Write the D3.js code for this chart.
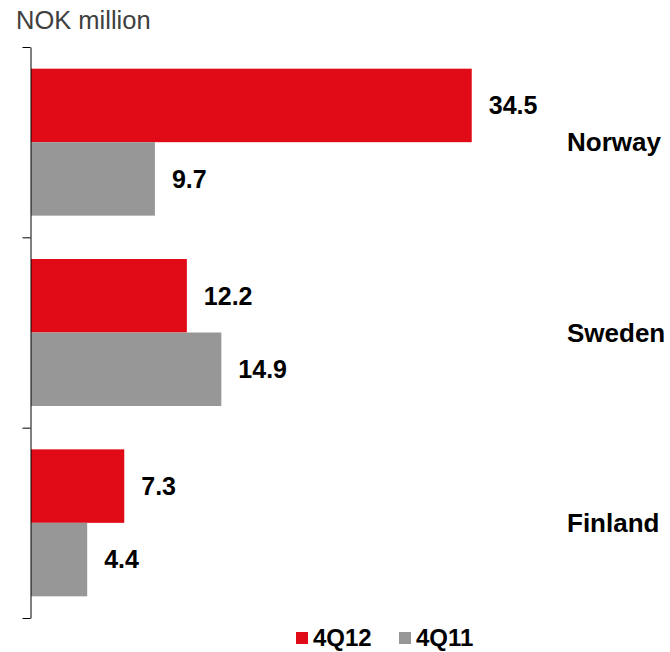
<!DOCTYPE html>
<html>
<head>
<meta charset="utf-8">
<script src="https://cdn.jsdelivr.net/npm/d3@7"></script>
<style>
  html, body { margin: 0; padding: 0; background: #fff; }
  svg { display: block; font-family: "Liberation Sans", Arial, sans-serif; }
</style>
</head>
<body>
<svg id="chart" width="670" height="652"></svg>
<script>
// Quarterly figures per country, NOK million
const categories = ["Norway", "Sweden", "Finland"];
const seriesNames = ["4Q12", "4Q11"];
const values4Q12 = [34.5, 12.2, 7.3];
const values4Q11 = [9.7, 14.9, 4.4];
const seriesColors = ["#E10A17", "#979797"];
const unitLabel = "NOK million";

const svg = d3.select("#chart");

const plotLeft = 31, plotTop = 47, plotBottom = 618;

const x = d3.scaleLinear().domain([0, 40]).range([plotLeft, plotLeft + 511]);

const y = d3.scaleBand().domain(categories).range([plotTop, plotBottom]).padding(0);

const yInner = d3.scaleBand().domain(seriesNames)
  .range([0, y.step()]).paddingInner(0).paddingOuter(0.295);

const rows = categories.map((c, i) => ({
  category: c,
  bars: [
    { series: seriesNames[0], value: values4Q12[i], color: seriesColors[0] },
    { series: seriesNames[1], value: values4Q11[i], color: seriesColors[1] }
  ]
}));

// unit caption
svg.append("text")
  .attr("x", 16).attr("y", 29)
  .attr("font-size", 25.5)
  .attr("fill", "#404040")
  .text(unitLabel);

// category groups
const groups = svg.selectAll("g.group").data(rows).join("g")
  .attr("class", "group")
  .attr("transform", d => `translate(0,${y(d.category)})`);

groups.selectAll("rect").data(d => d.bars).join("rect")
  .attr("x", x(0))
  .attr("y", d => yInner(d.series))
  .attr("width", d => x(d.value) - x(0))
  .attr("height", yInner.bandwidth())
  .attr("fill", d => d.color);

groups.selectAll("text.value").data(d => d.bars).join("text")
  .attr("class", "value")
  .attr("x", d => x(d.value) + 17)
  .attr("y", d => yInner(d.series) + yInner.bandwidth() / 2)
  .attr("dy", "0.35em")
  .attr("font-size", 25)
  .attr("font-weight", "bold")
  .attr("fill", "#000")
  .text(d => d.value.toFixed(1));

groups.append("text")
  .attr("class", "category")
  .attr("x", 567)
  .attr("y", y.step() / 2)
  .attr("dy", "0.35em")
  .attr("font-size", 26)
  .attr("font-weight", "bold")
  .attr("fill", "#000")
  .text(d => d.category);

// category axis with ticks at band boundaries
const boundary = d3.scaleLinear().domain([0, categories.length]).range([plotTop, plotBottom]);
const axis = d3.axisLeft(boundary)
  .tickValues(d3.range(categories.length + 1))
  .tickFormat("")
  .tickSize(8)
  .tickSizeOuter(0);

svg.append("g")
  .attr("transform", `translate(${plotLeft - 0.5},0)`)
  .call(axis)
  .call(g => g.selectAll("path, line").attr("stroke", "#000"));

// legend
const legend = svg.append("g").attr("transform", "translate(296,632)");
const legendOffsets = [0, 103];
seriesNames.forEach((s, i) => {
  const item = legend.append("g").attr("transform", `translate(${legendOffsets[i]},0)`);
  item.append("rect").attr("width", 12).attr("height", 12).attr("fill", seriesColors[i]);
  item.append("text")
    .attr("x", 17).attr("y", 6)
    .attr("dy", "0.35em")
    .attr("font-size", 24)
    .attr("font-weight", "bold")
    .attr("fill", "#000")
    .text(s);
});
</script>
</body>
</html>
